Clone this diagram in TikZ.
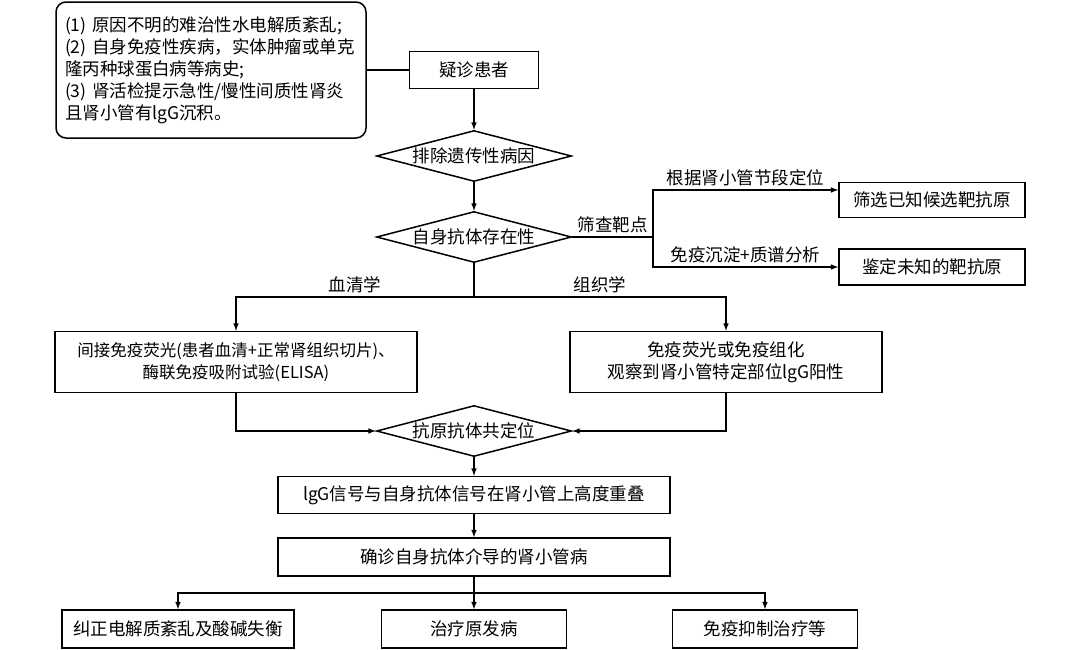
\documentclass[tikz,border=0pt]{standalone}
\usepackage{fontspec}
\setmainfont{Noto Sans CJK SC}
\usetikzlibrary{shapes.geometric}

\begin{document}
\begin{tikzpicture}[x=1pt,y=-1pt,line width=1.5pt,
		font=\fontsize{17.5}{22}\selectfont,
		hop/.style={draw, minimum height=37pt, inner sep=2pt, align=center},
		thoi/.style={draw, diamond, aspect=3.8, minimum width=195pt, minimum height=51pt, inner sep=0pt}]
			\useasboundingbox (0,0) rectangle (1080,649);
			% Khung ghi chu
			\node [draw, rounded corners=10pt, align=left, text width=292pt, inner xsep=9pt, minimum height=136pt] (note) at (211,70) {(1) 原因不明的难治性水电解质紊乱;\\(2) 自身免疫性疾病，实体肿瘤或单克\\隆丙种球蛋白病等病史;\\(3) 肾活检提示急性/慢性间质性肾炎\\且肾小管有lgG沉积。};
			% Cac hop
			\node [hop, minimum width=129pt] (suspect) at (474,70) {疑诊患者};
			\node [thoi] (exclude) at (474,156) {排除遗传性病因};
			\node [thoi] (autoab) at (474,237) {自身抗体存在性};
			\node [hop, minimum width=186pt, minimum height=35pt] (known) at (932,200) {筛选已知候选靶抗原};
			\node [hop, minimum width=186pt, minimum height=36pt] (unknown) at (932,267) {鉴定未知的靶抗原};
			\node [hop, minimum width=362pt, minimum height=61pt, font=\fontsize{16.5}{22}\selectfont] (ifa) at (236,362) {间接免疫荧光(患者血清+正常肾组织切片)、\\酶联免疫吸附试验(ELISA)};
			\node [hop, minimum width=312pt, minimum height=61pt] (ihc) at (726,362) {免疫荧光或免疫组化\\观察到肾小管特定部位lgG阳性};
			\node [thoi] (coloc) at (474,431) {抗原抗体共定位};
			\node [hop, minimum width=392pt] (overlap) at (474,495) {lgG信号与自身抗体信号在肾小管上高度重叠};
			\node [hop, minimum width=392pt, minimum height=38pt] (diagnose) at (474,557) {确诊自身抗体介导的肾小管病};
			\foreach \name/\x/\w/\txt in {electro/178/232/纠正电解质紊乱及酸碱失衡, primary/474/185/治疗原发病, immuno/765/185/免疫抑制治疗等}
			\node [hop, minimum width=\w pt, minimum height=38pt] (\name) at (\x,629) {\txt};
			% Noi cac hop
			\draw (note) -- (suspect);
			\draw [-latex] (suspect) -- (exclude);
			\draw [-latex] (exclude) -- (autoab);
			\coordinate (br) at (653,237);
			\coordinate (brup) at (653,190);
			\draw (autoab.east) -- (br) node [midway, above] (screen) {筛查靶点};
			\draw [-latex] (br) -- (brup) -- (brup -| known.west) node [midway, above] (seg) {根据肾小管节段定位};
			\draw [-latex] (br) |- (unknown.west) node [pos=0.75, above] (ipms) {免疫沉淀+质谱分析};
			\coordinate (split) at (474,297);
			\draw (autoab) -- (split);
			\draw [-latex] (split) -| (ifa) node [pos=0.25, above] (serum) {血清学};
			\draw [-latex] (split) -| (ihc) node [pos=0.25, above] (tissue) {组织学};
			\draw [-latex] (ifa) |- (coloc);
			\draw [-latex] (ihc) |- (coloc);
			\draw [-latex] (coloc) -- (overlap);
			\draw [-latex] (overlap) -- (diagnose);
			\coordinate (tr) at (474,593);
			\draw (diagnose) -- (tr);
			\draw [-latex] (tr) -- (primary);
			\foreach \name in {electro,immuno}
			\draw [-latex] (tr) -| (\name);
		\end{tikzpicture}
\end{document}
